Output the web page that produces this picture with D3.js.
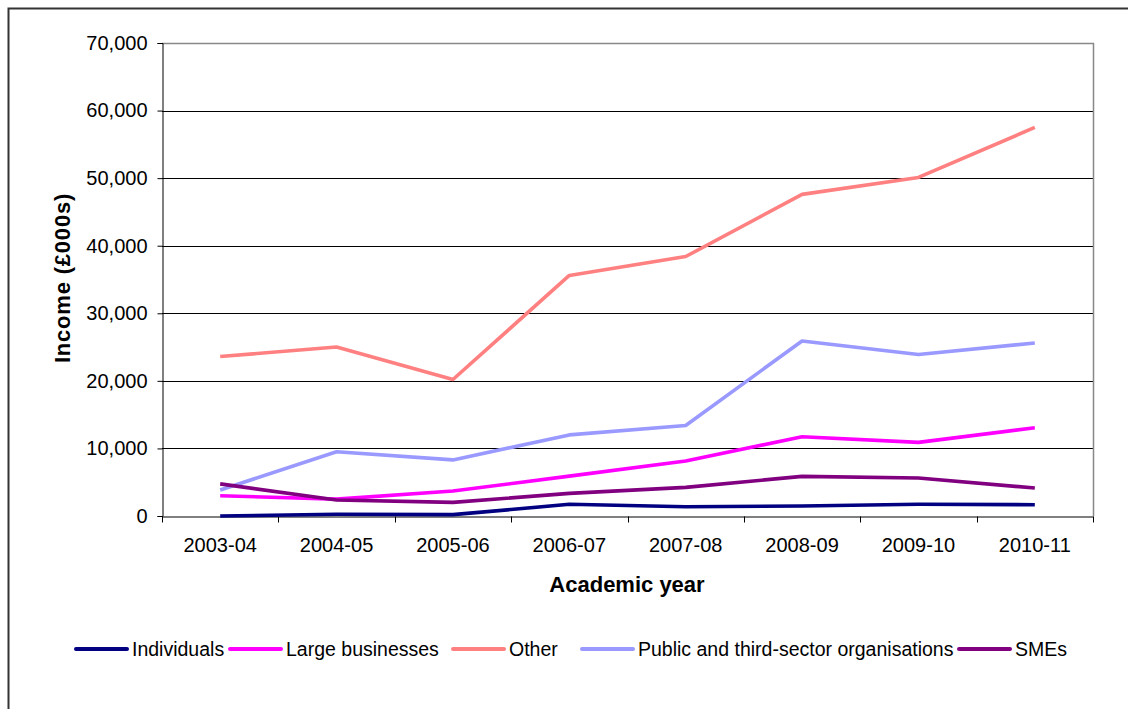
<!DOCTYPE html>
<html>
<head>
<meta charset="utf-8">
<script src="https://cdn.jsdelivr.net/npm/d3@7"></script>
<style>
  body { margin: 0; background: #fff; }
  svg { display: block; font-family: "Liberation Sans", Arial, sans-serif; }
</style>
</head>
<body>
<svg width="1128" height="709"></svg>
<script>
const years = ["2003-04", "2004-05", "2005-06", "2006-07", "2007-08", "2008-09", "2009-10", "2010-11"];

const individuals = [0, 250, 200, 1730, 1380, 1480, 1730, 1670];
const largeBusinesses = [3000, 2500, 3700, 5900, 8140, 11730, 10900, 13060];
const other = [23600, 25000, 20200, 35600, 38400, 47600, 50100, 57500];
const publicThird = [3850, 9500, 8300, 12000, 13400, 25900, 23900, 25600];
const smes = [4750, 2370, 2020, 3350, 4240, 5870, 5620, 4140];

const seriesNames = ["Individuals", "Large businesses", "Other", "Public and third-sector organisations", "SMEs"];
const seriesColors = ["#000080", "#ff00ff", "#ff8080", "#9999ff", "#800080"];
const seriesValues = [individuals, largeBusinesses, other, publicThird, smes];

const yTicks = [0, 10000, 20000, 30000, 40000, 50000, 60000, 70000];

// legend entry start positions (layout only)
const legendX = [76, 230, 453, 582, 959];

const svg = d3.select("svg"),
      width = +svg.attr("width"),
      height = +svg.attr("height");

// outer chart frame (runs off the right and bottom edges)
svg.append("rect")
  .attr("x", 8.5).attr("y", 8.5)
  .attr("width", 1300).attr("height", 900)
  .attr("fill", "none")
  .attr("stroke", "#333")
  .attr("stroke-width", 2);

const plot = { left: 162, top: 43, right: 1093, bottom: 516 };

const x = d3.scaleBand()
  .domain(years)
  .range([plot.left, plot.right]);

const y = d3.scaleLinear()
  .domain([0, 70000])
  .range([plot.bottom, plot.top]);

// gridlines
svg.append("g")
  .selectAll("line")
  .data(yTicks.filter(d => d > 0 && d < 70000))
  .enter()
  .append("line")
  .attr("x1", plot.left).attr("x2", plot.right)
  .attr("y1", d => Math.round(y(d)) + 0.5)
  .attr("y2", d => Math.round(y(d)) + 0.5)
  .attr("stroke", "#000")
  .attr("stroke-width", 1);

// plot area border (top and right, grey)
svg.append("path")
  .attr("d", `M${plot.left},${plot.top + 0.5}H${plot.right + 0.5}V${plot.bottom}`)
  .attr("fill", "none")
  .attr("stroke", "#888")
  .attr("stroke-width", 1.5);

// y axis
const yAxis = svg.append("g")
  .attr("transform", `translate(${plot.left + 0.5},0)`)
  .call(d3.axisLeft(y).tickValues(yTicks).tickSize(5).tickPadding(10).tickFormat(d3.format(",")));
yAxis.select(".domain").attr("stroke", "#000");
yAxis.selectAll(".tick line").attr("stroke", "#000");
yAxis.selectAll("text")
  .attr("font-size", 20)
  .attr("font-family", "Liberation Sans, Arial, sans-serif")
  .attr("fill", "#000");

// x axis with ticks at category boundaries
const xAxis = svg.append("g")
  .attr("transform", `translate(0,${plot.bottom + 0.5})`)
  .call(d3.axisBottom(x).tickSize(0).tickPadding(21));
xAxis.select(".domain").attr("stroke", "#000");
xAxis.selectAll("text")
  .attr("font-size", 20)
  .attr("font-family", "Liberation Sans, Arial, sans-serif")
  .attr("fill", "#000");
xAxis.selectAll(".boundary")
  .data(d3.range(years.length + 1))
  .enter()
  .append("line")
  .attr("class", "boundary")
  .attr("x1", i => Math.round(plot.left + i * x.step()) + 0.5)
  .attr("x2", i => Math.round(plot.left + i * x.step()) + 0.5)
  .attr("y1", 0).attr("y2", 6)
  .attr("stroke", "#000");

// lines
const line = d3.line()
  .x((d, i) => x(years[i]) + x.bandwidth() / 2)
  .y(d => y(d));

svg.append("g")
  .selectAll("path")
  .data(seriesValues)
  .enter()
  .append("path")
  .attr("d", line)
  .attr("fill", "none")
  .attr("stroke", (d, i) => seriesColors[i])
  .attr("stroke-width", 3.6)
  .attr("stroke-linejoin", "round");

// axis titles
svg.append("text")
  .attr("x", 627)
  .attr("y", 592)
  .attr("text-anchor", "middle")
  .attr("font-size", 22)
  .attr("font-weight", "bold")
  .text("Academic year");

svg.append("text")
  .attr("transform", `translate(70,278) rotate(-90)`)
  .attr("text-anchor", "middle")
  .attr("font-size", 22)
  .attr("font-weight", "bold")
  .attr("letter-spacing", 0.8)
  .text("Income (£000s)");

// legend
const legend = svg.append("g").attr("transform", "translate(0,649)");
seriesNames.forEach((name, i) => {
  const g = legend.append("g").attr("transform", `translate(${legendX[i]},0)`);
  g.append("line")
    .attr("x1", 0).attr("x2", 51)
    .attr("y1", 0).attr("y2", 0)
    .attr("stroke", seriesColors[i])
    .attr("stroke-width", 4)
    .attr("stroke-linecap", "round");
  g.append("text")
    .attr("x", 56)
    .attr("y", 7)
    .attr("font-size", 19.5)
    .text(name);
});
</script>
</body>
</html>
